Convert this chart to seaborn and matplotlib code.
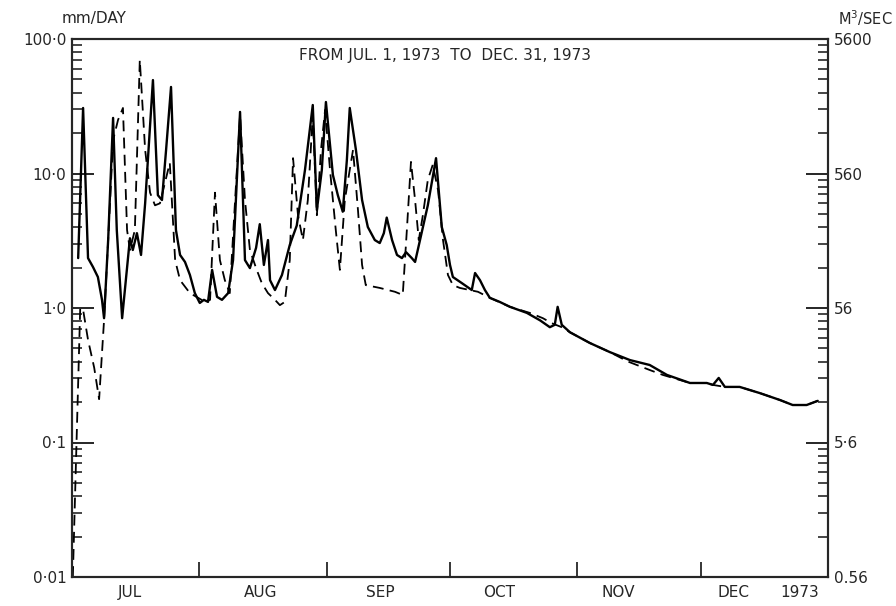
import matplotlib
matplotlib.use("Agg")
import matplotlib.pyplot as plt
import seaborn as sns
import pandas as pd
from matplotlib.ticker import FixedLocator, FixedFormatter, NullFormatter

# ---------------- data (days since Jul 1, 1973 ; mm/day) ----------------
obs_day = [1.5, 2.7, 3.9, 5.1, 6.3, 7.3, 7.8, 8.8, 10.0, 10.9, 12.2, 14.1, 14.8, 15.8,
           16.8, 17.8, 19.7, 20.9, 21.9, 22.9, 24.1, 25.3, 26.3, 27.5, 28.7, 29.9, 31.1,
           32.1, 33.1, 34.1, 35.3, 36.5, 38.0, 39.2, 40.9, 42.1, 43.3, 44.8, 45.7, 46.7,
           47.7, 48.2, 49.4, 51.1, 53.0, 54.7, 56.7, 58.6, 59.6, 60.8, 61.8, 63.5, 64.7,
           65.9, 66.9, 67.6, 69.1, 70.6, 72.0, 73.7, 74.9, 75.9, 76.6, 77.9, 79.1, 80.3,
           81.3, 82.7, 83.5, 84.7, 86.6, 88.6, 90.0, 91.2, 92.0, 92.7, 94.9, 97.3, 98.1,
           99.3, 100.5, 101.7, 104.1, 106.6, 110.7, 113.9, 116.3, 117.5, 118.2, 119.2,
           121.2, 126.0, 130.9, 135.8, 140.6, 144.8, 150.4, 154.5, 156.0, 157.4, 158.9,
           162.5, 167.4, 172.3, 175.4, 178.8, 181.5]
obs_val = [2.35, 30.7, 2.35, 2.02, 1.7, 1.15, 0.84, 3.2, 25.9, 3.8, 0.84, 3.3, 2.7, 3.6,
           2.48, 6.0, 49.5, 6.9, 6.35, 15.0, 44.0, 3.8, 2.48, 2.2, 1.76, 1.29, 1.09,
           1.15, 1.11, 1.92, 1.21, 1.15, 1.29, 2.27, 28.7, 2.27, 1.98, 2.8, 4.2, 2.09,
           3.2, 1.61, 1.36, 1.76, 2.94, 4.1, 10.6, 32.3, 5.35, 10.6, 34.0, 9.75, 6.9,
           5.2, 12.6, 30.7, 15.0, 6.35, 4.0, 3.2, 3.04, 3.6, 4.7, 3.2, 2.48, 2.35,
           2.6, 2.35, 2.2, 3.2, 5.8, 13.0, 4.0, 2.94, 2.09, 1.7, 1.53, 1.36, 1.82,
           1.61, 1.36, 1.19, 1.11, 1.02, 0.92, 0.81, 0.72, 0.75, 1.02, 0.75,
           0.66, 0.55, 0.47, 0.41, 0.377, 0.318, 0.277, 0.277, 0.268, 0.302, 0.259,
           0.259, 0.233, 0.207, 0.19, 0.19, 0.204]

sim_day = [0.2, 2.0, 2.7, 3.9, 5.4, 6.6, 7.8, 8.8, 10.0, 11.2, 12.4, 13.4, 14.1, 15.3,
           16.5, 17.8, 19.0, 20.2, 21.4, 23.8, 25.1, 26.3, 28.7, 30.7, 32.4, 33.6, 34.8,
           36.0, 37.2, 38.4, 39.7, 40.9, 42.1, 43.3, 44.8, 46.2, 47.7, 49.4, 50.6, 51.8,
           53.0, 53.8, 55.0, 56.2, 57.4, 58.6, 59.6, 60.6, 61.6, 62.8, 64.2, 65.2, 66.4,
           68.4, 69.6, 70.6, 71.5, 74.9, 78.6, 80.5, 81.5, 82.5, 83.5, 84.4, 85.4, 86.6,
           87.8, 89.1, 90.3, 91.5, 92.7, 94.4, 96.8, 98.8, 101.7, 106.6, 111.4, 114.6,
           116.8, 119.2, 121.2, 126.0, 130.9, 135.3, 140.6, 143.8, 150.4, 154.5, 156.0,
           158.9, 162.5, 167.4, 172.3, 175.4, 178.8, 181.5]
sim_val = [0.01, 1.0, 0.97, 0.58, 0.36, 0.21, 0.81, 3.2, 17.7, 25.0, 30.7, 3.8, 2.7, 3.8,
           69.8, 15.0, 7.2, 5.8, 6.0, 12.0, 2.27, 1.61, 1.29, 1.19, 1.11, 1.15, 7.2,
           2.27, 1.61, 1.29, 6.35, 27.2, 6.35, 2.7, 1.98, 1.53, 1.29, 1.15, 1.05, 1.11,
           2.27, 13.0, 4.9, 3.2, 6.35, 27.2, 4.9, 15.0, 29.7, 10.6, 3.8, 1.92, 6.35,
           15.0, 5.35, 2.09, 1.48, 1.41, 1.32, 1.25, 3.8, 12.2, 6.35, 3.2, 4.9, 8.95,
           11.6, 7.5, 3.2, 1.76, 1.48, 1.41, 1.36, 1.32, 1.19, 1.02, 0.92, 0.84,
           0.77, 0.72, 0.66, 0.55, 0.47, 0.40, 0.346, 0.318, 0.277, 0.277, 0.268,
           0.259, 0.259, 0.233, 0.207, 0.19, 0.19, 0.204]

left_ticks = [0.01, 0.1, 1.0, 10.0, 100.0]
left_labels = ["0·01", "0·1", "1·0", "10·0", "100·0"]
right_ticks = [0.56, 5.6, 56.0, 560.0, 5600.0]
right_labels = ["0.56", "5·6", "56", "560", "5600"]
month_edges = [31, 62, 92, 123, 153]
month_label_pos = [14, 46, 75, 104, 133, 161, 177]
month_labels = ["JUL", "AUG", "SEP", "OCT", "NOV", "DEC", "1973"]

obs = pd.DataFrame({"day": obs_day, "val": obs_val})
sim = pd.DataFrame({"day": sim_day, "val": sim_val})

# ---------------- figure ----------------
sns.set_style("white")
plt.rcParams["font.family"] = ["DejaVu Sans"]
fig = plt.figure(figsize=(8.96, 6.06), dpi=100)
ax = fig.add_axes([72 / 896, 1 - 577 / 606, 756 / 896, 538 / 606])

sns.lineplot(data=obs, x="day", y="val", ax=ax, color="black", lw=1.7,
             estimator=None, sort=False)
sns.lineplot(data=sim, x="day", y="val", ax=ax, color="black", lw=1.3,
             linestyle=(0, (6, 3.5)), estimator=None, sort=False)

ax.set_yscale("log")
ax.set_ylim(0.01, 100)
ax.set_xlim(0, 184)
ax.set_xlabel("")
ax.set_ylabel("")

for s in ax.spines.values():
    s.set_linewidth(1.5)
    s.set_color("black")

# left axis ticks
ax.yaxis.set_major_locator(FixedLocator(left_ticks))
ax.yaxis.set_major_formatter(FixedFormatter(left_labels))
ax.yaxis.set_minor_locator(FixedLocator([b * k for b in left_ticks[:-1] for k in range(2, 10)]))
ax.yaxis.set_minor_formatter(NullFormatter())
ax.tick_params(axis="y", which="major", direction="in", length=16, width=1.4,
               labelsize=11, pad=4, left=True, right=False)
ax.tick_params(axis="y", which="minor", direction="in", length=7, width=1.2,
               left=True, right=False)

# x axis
ax.xaxis.set_major_locator(FixedLocator(month_edges))
ax.xaxis.set_major_formatter(NullFormatter())
ax.xaxis.set_minor_locator(FixedLocator(month_label_pos))
ax.xaxis.set_minor_formatter(FixedFormatter(month_labels))
ax.tick_params(axis="x", which="major", direction="in", length=11, width=1.3,
               bottom=True, top=False)
ax.tick_params(axis="x", which="minor", length=0, labelsize=11, pad=6,
               bottom=True, top=False)

# right axis
ax2 = ax.twinx()
ax2.set_yscale("log")
ax2.set_ylim(0.56, 5600)
ax2.yaxis.set_major_locator(FixedLocator(right_ticks))
ax2.yaxis.set_major_formatter(FixedFormatter(right_labels))
ax2.yaxis.set_minor_locator(FixedLocator([b * k for b in right_ticks[:-1] for k in range(2, 10)]))
ax2.yaxis.set_minor_formatter(NullFormatter())
ax2.tick_params(axis="y", which="major", direction="in", length=16, width=1.4,
                labelsize=11, pad=4)
ax2.tick_params(axis="y", which="minor", direction="in", length=7, width=1.2)
for s in ax2.spines.values():
    s.set_linewidth(1.5)

# texts
ax.text(0.493, 0.97, "FROM JUL. 1, 1973  TO  DEC. 31, 1973", transform=ax.transAxes,
        ha="center", va="center", fontsize=11)
fig.text(62 / 896, 1 - 18 / 606, "mm/DAY", ha="left", va="center", fontsize=11)
fig.text(838 / 896, 1 - 18 / 606, "M$^3$/SEC", ha="left", va="center", fontsize=10.5)

fig.savefig("out.png", dpi=100, facecolor="white")
